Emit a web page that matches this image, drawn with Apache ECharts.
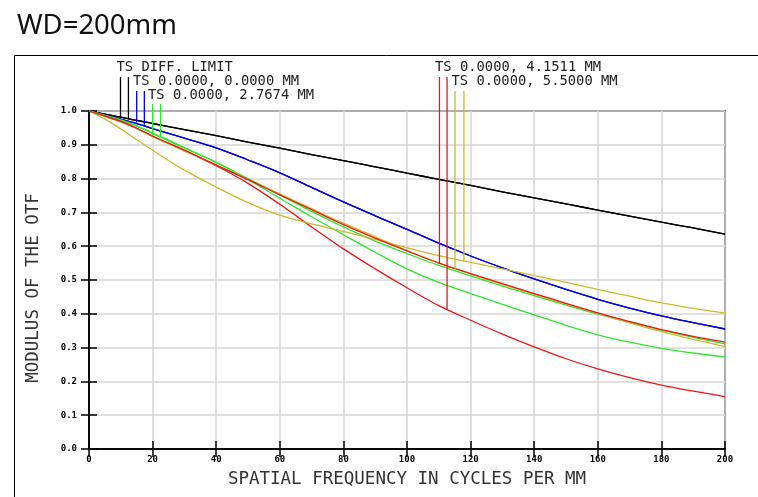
<!DOCTYPE html>
<html>
<head>
<meta charset="utf-8">
<script src="https://cdn.jsdelivr.net/npm/echarts@6/dist/echarts.min.js"></script>
<style>
html,body{margin:0;padding:0;background:#fff;}
#c{width:758px;height:497px;}
</style>
</head>
<body>
<div id="c"></div>
<script>
// ---------- data ----------
const freq = [0,5,10,15,20,30,40,50,60,70,80,90,100,110,120,130,140,150,160,170,180,190,200];

const diffT   = [1.000,0.991,0.982,0.972,0.963,0.945,0.927,0.908,0.890,0.871,0.853,0.835,0.816,0.798,0.780,0.761,0.743,0.725,0.707,0.689,0.671,0.654,0.636];
const diffS   = [1.000,0.991,0.982,0.972,0.963,0.945,0.927,0.908,0.890,0.871,0.853,0.835,0.816,0.798,0.780,0.761,0.743,0.725,0.707,0.689,0.671,0.654,0.636];
const f0T     = [1.000,0.988,0.976,0.963,0.948,0.920,0.891,0.855,0.817,0.774,0.731,0.690,0.650,0.609,0.571,0.536,0.503,0.472,0.443,0.417,0.394,0.374,0.355];
const f0S     = [1.000,0.988,0.976,0.963,0.948,0.920,0.891,0.855,0.817,0.774,0.731,0.690,0.650,0.609,0.571,0.536,0.503,0.472,0.443,0.417,0.394,0.374,0.355];
const f27T    = [1.000,0.987,0.973,0.955,0.933,0.890,0.848,0.800,0.752,0.703,0.657,0.615,0.578,0.543,0.512,0.482,0.454,0.426,0.399,0.375,0.352,0.330,0.311];
const f27S    = [1.000,0.987,0.974,0.956,0.935,0.892,0.848,0.797,0.742,0.687,0.634,0.582,0.533,0.493,0.460,0.428,0.397,0.366,0.338,0.316,0.298,0.284,0.272];
const f41T    = [1.000,0.985,0.969,0.949,0.926,0.884,0.840,0.797,0.752,0.708,0.664,0.624,0.586,0.550,0.519,0.489,0.460,0.431,0.403,0.377,0.353,0.333,0.316];
const f41S    = [1.000,0.985,0.969,0.949,0.925,0.883,0.838,0.786,0.724,0.657,0.592,0.533,0.477,0.424,0.381,0.340,0.302,0.267,0.237,0.211,0.189,0.171,0.155];
const f55T    = [1.000,0.984,0.967,0.948,0.924,0.882,0.840,0.798,0.755,0.711,0.668,0.628,0.587,0.551,0.518,0.487,0.458,0.429,0.401,0.373,0.347,0.324,0.303];
const f55S    = [1.000,0.976,0.947,0.915,0.884,0.825,0.775,0.729,0.692,0.666,0.644,0.620,0.595,0.572,0.552,0.533,0.513,0.493,0.472,0.452,0.432,0.416,0.402];

const legendLabels = ['TS DIFF. LIMIT','TS 0.0000, 0.0000 MM','TS 0.0000, 2.7674 MM','TS 0.0000, 4.1511 MM','TS 0.0000, 5.5000 MM'];
// marker lines: frequency where each curve's marker sits and the curve value there
const markerFreq = [9.9, 12.4, 15.0, 17.4, 20.0, 22.5, 110.2, 112.6, 115.1, 117.9];
const markerEnd  = [0.982,0.977,0.966,0.959,0.930,0.925,0.549,0.412,0.534,0.555];

const xTicks = {min:0, max:200, interval:20};
const yTicks = {min:0, max:1, interval:0.1};

// ---------- style / layout ----------
const COLORS = ['#000000','#0000e6','#2ee62e','#ee1515','#cdb92c'];
const MONO = '"DejaVu Sans Mono", "Liberation Mono", monospace';
const GRID = {left:89, right:33, top:111, bottom:48};
// legend label positions (px) and where each field's marker lines start (px)
const LABEL_POS = [[116.5,67.7],[133,81],[148,95],[435,67.7],[451.5,81.7]];
const MARKER_TOP_PX = [77,91,104,77,91];

const curves = [diffT,diffS,f0T,f0S,f27T,f27S,f41T,f41S,f55T,f55S];

const chart = echarts.init(document.getElementById('c'), null, {renderer:'canvas'});

function pairs(vals){ return freq.map((f,i)=>[f, vals[i]]); }

const axisCommon = {
  type:'value',
  axisLine:{show:true, lineStyle:{color:'#000', width:1.5}},
  axisTick:{show:true, inside:true, length:8, lineStyle:{color:'#000', width:1.5}},
};

const baseOption = {
  animation:false,
  backgroundColor:'#fff',
  title:{
    text:'WD=200mm', left:12, top:7,
    textStyle:{fontFamily:'"Noto Sans", "Open Sans", sans-serif', fontSize:27.5, fontWeight:'normal', color:'#111'}
  },
  grid:{left:GRID.left, right:GRID.right, top:GRID.top, bottom:GRID.bottom, show:true, borderColor:'#000', borderWidth:1.5, backgroundColor:'transparent'},
  xAxis:[
    Object.assign({}, axisCommon, {
      position:'bottom', min:xTicks.min, max:xTicks.max, interval:xTicks.interval,
      name:'SPATIAL FREQUENCY IN CYCLES PER MM', nameLocation:'middle', nameGap:21,
      nameTextStyle:{fontFamily:MONO, fontSize:17.5, color:'#333', verticalAlign:'top'},
      axisLabel:{fontFamily:MONO, fontSize:9, fontWeight:'bold', color:'#000', margin:6, formatter:v=>String(Math.round(v))},
      splitLine:{show:true, lineStyle:{color:'#d6d6d6', width:1.5}}
    }),
    Object.assign({}, axisCommon, {
      position:'top', min:xTicks.min, max:xTicks.max, interval:xTicks.interval,
      axisLabel:{show:false}, splitLine:{show:false}
    })
  ],
  yAxis:[
    Object.assign({}, axisCommon, {
      position:'left', min:yTicks.min, max:yTicks.max, interval:yTicks.interval,
      name:'MODULUS OF THE OTF', nameLocation:'middle', nameGap:47, nameRotate:90,
      nameTextStyle:{fontFamily:MONO, fontSize:17.5, color:'#333', verticalAlign:'bottom', padding:[0,16,0,0]},
      axisLabel:{fontFamily:MONO, fontSize:9, fontWeight:'bold', color:'#000', margin:12, formatter:v=>v.toFixed(1)},
      splitLine:{show:true, lineStyle:{color:'#d6d6d6', width:1.5}}
    }),
    Object.assign({}, axisCommon, {
      position:'right', min:yTicks.min, max:yTicks.max, interval:yTicks.interval,
      axisLabel:{show:false}, splitLine:{show:false}
    })
  ],
  graphic:[
    {type:'rect', shape:{x:14.5, y:55.5, width:800, height:500}, style:{fill:'none', stroke:'#000', lineWidth:1}, z:-1, silent:true}
  ].concat(legendLabels.map((t,i)=>({
    type:'text', x:LABEL_POS[i][0], y:LABEL_POS[i][1],
    style:{text:t, fontFamily:MONO, fontSize:13.8, fill:'#222', verticalAlign:'middle', align:'left'},
    silent:true
  }))),
  series:[]
};
chart.setOption(baseOption);

// convert marker start pixel rows to data units through the y axis scale
const markerTop = MARKER_TOP_PX.map(py => chart.convertFromPixel({yAxisIndex:0}, py));

const series = [];
curves.forEach((vals, i) => {
  const field = Math.floor(i/2);
  series.push({
    name: legendLabels[field] + (i%2 ? ' S' : ' T'),
    type:'line', xAxisIndex:0, yAxisIndex:0,
    data: pairs(vals), smooth:0.35, showSymbol:false,
    lineStyle:{color:COLORS[field], width:1.3},
    itemStyle:{color:COLORS[field]},
    z: 3 + (i===6 ? 1 : 0)
  });
});
markerFreq.forEach((f, i) => {
  const field = Math.floor(i/2);
  series.push({
    name: 'marker ' + i,
    type:'line', xAxisIndex:0, yAxisIndex:0, clip:false,
    data: [[f, markerEnd[i]], [f, markerTop[field]]],
    showSymbol:false,
    lineStyle:{color:COLORS[field], width:1.3},
    z: 5
  });
});
chart.setOption({series:series});
</script>
</body>
</html>
